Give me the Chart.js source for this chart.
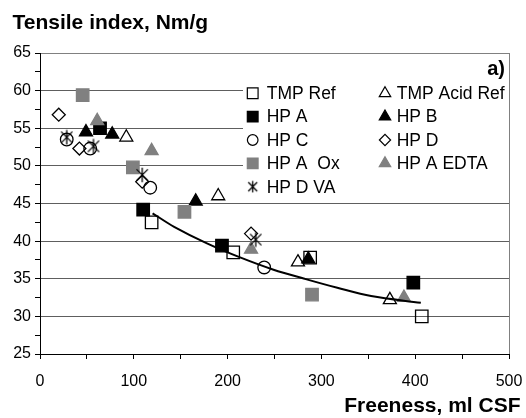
<!DOCTYPE html>
<html>
<head>
<meta charset="utf-8">
<script src="https://cdn.jsdelivr.net/npm/chart.js@4.4.1/dist/chart.umd.min.js"></script>
<style>
  body { margin: 0; background: #fff; }
  #wrap { width: 526px; height: 418px; }
</style>
</head>
<body>
<div id="wrap"><canvas id="chart" width="526" height="418"></canvas></div>
<script>
// freeness (ml CSF) / tensile index (Nm/g) per pulp
var tmpRefX = [119, 206, 288, 407];
var tmpRefY = [42.5, 38.5, 37.8, 30.0];
var tmpAcidX = [92, 190, 275, 373];
var tmpAcidY = [53.8, 46.0, 37.2, 32.2];
var hpAX = [64, 110, 194, 398];
var hpAY = [55.0, 44.2, 39.4, 34.5];
var hpBX = [49, 77, 166, 286];
var hpBY = [54.5, 54.2, 45.3, 37.6];
var hpCX = [28.5, 53.5, 117.5, 239];
var hpCY = [53.5, 52.3, 47.1, 36.5];
var hpDX = [20, 42, 109, 225];
var hpDY = [56.8, 52.3, 47.9, 41.0];
var hpAOxX = [45.5, 99, 154, 290];
var hpAOxY = [59.4, 49.8, 43.9, 32.9];
var hpAEdtaX = [61, 119, 225, 388];
var hpAEdtaY = [56.0, 52.0, 38.9, 32.5];
var hpDVaX = [28.5, 57, 109, 230];
var hpDVaY = [53.8, 52.6, 48.8, 40.2];

// fitted trend curve, read along its length
var trendX = [120, 143, 178, 214, 249, 282, 317, 353, 406];
var trendY = [43.7, 41.9, 39.7, 37.8, 36.2, 35.0, 33.8, 32.7, 31.8];

var xTicks = [0, 100, 200, 300, 400, 500];
var yTicks = [25, 30, 35, 40, 45, 50, 55, 60, 65];

var FONT = '"Liberation Sans", Arial, sans-serif';
var GRAY = '#808080';

function makeStar(size) {
    var c = document.createElement('canvas');
    c.width = size; c.height = size;
    var g = c.getContext('2d');
    var m = size / 2, r = size / 2 - 0.8, d = r * 0.78;
    g.strokeStyle = '#000';
    g.lineWidth = 1.3;
    g.beginPath();
    g.moveTo(m, m - r); g.lineTo(m, m + r);
    g.moveTo(m - d, m - d); g.lineTo(m + d, m + d);
    g.moveTo(m + d, m - d); g.lineTo(m - d, m + d);
    g.stroke();
    return c;
}
var starBig = makeStar(16);
var starSmall = makeStar(13);

function pts(xs, ys) {
    return xs.map(function (x, i) { return {x: x, y: ys[i]}; });
}

// label, xs, ys, style, fill, stroke, radius, legend radius
var series = [
    ['TMP Ref', tmpRefX, tmpRefY, 'rect', 'transparent', '#000', 8.8, 7.6],
    ['TMP Acid Ref', tmpAcidX, tmpAcidY, 'triangle', 'transparent', '#000', 7.5, 6.6],
    ['HP A', hpAX, hpAY, 'rect', '#000', '#000', 8.8, 7.6],
    ['HP B', hpBX, hpBY, 'triangle', '#000', '#000', 7.5, 6.6],
    ['HP C', hpCX, hpCY, 'circle', 'transparent', '#000', 6.3, 5.3],
    ['HP D', hpDX, hpDY, 'rectRot', 'transparent', '#000', 6.5, 5.6],
    ['HP A  Ox', hpAOxX, hpAOxY, 'rect', GRAY, GRAY, 8.8, 7.6],
    ['HP A EDTA', hpAEdtaX, hpAEdtaY, 'triangle', GRAY, GRAY, 7.5, 6.6],
    ['HP D VA', hpDVaX, hpDVaY, starBig, '#000', '#000', 8, 6.5]
];

var datasets = [{
    type: 'line',
    label: 'trend',
    data: pts(trendX, trendY),
    borderColor: '#000',
    borderWidth: 2,
    pointRadius: 0,
    tension: 0.35,
    fill: false,
    order: 0
}];
series.forEach(function (s, i) {
    datasets.push({
        label: s[0],
        data: pts(s[1], s[2]),
        pointStyle: s[3],
        backgroundColor: s[4],
        borderColor: s[5],
        pointBackgroundColor: s[4],
        pointBorderColor: s[5],
        pointBorderWidth: 1.3,
        pointRadius: s[6],
        order: 20 - i
    });
});

// two-column legend on a white box inside the plot, plus the text labels
var decorations = {
    id: 'decorations',
    afterDraw: function (chart) {
        var ctx = chart.ctx;
        ctx.save();
        ctx.fillStyle = '#fff';
        ctx.fillRect(243, 80, 266, 116);

        ctx.font = '17.5px ' + FONT;
        ctx.textBaseline = 'middle';
        ctx.textAlign = 'left';
        series.forEach(function (s, i) {
            var col = i % 2, row = Math.floor(i / 2);
            var mx = col ? 385 : 252.7;
            var tx = col ? 396.7 : 266.7;
            var my = 93.3 + row * 23.35;
            ctx.fillStyle = s[4];
            ctx.strokeStyle = s[5];
            ctx.lineWidth = 1.2;
            Chart.helpers.drawPoint(ctx, {
                pointStyle: s[3] === starBig ? starSmall : s[3],
                radius: s[7],
                borderWidth: 1.2,
                rotation: 0
            }, mx, my);
            ctx.fillStyle = '#000';
            ctx.fillText(s[0], tx, my + 1);
        });

        ctx.fillStyle = '#000';
        ctx.textBaseline = 'alphabetic';
        ctx.font = 'bold 21px ' + FONT;
        ctx.fillText('Tensile index, Nm/g', 12.5, 28.5);
        ctx.textAlign = 'right';
        ctx.fillText('Freeness, ml CSF', 520.5, 412);
        ctx.font = 'bold 20px ' + FONT;
        ctx.fillText('a)', 505, 75);
        ctx.restore();
    }
};

Chart.defaults.font.family = FONT;
Chart.defaults.color = '#000';

new Chart(document.getElementById('chart'), {
    type: 'scatter',
    data: {datasets: datasets},
    options: {
        responsive: false,
        animation: false,
        layout: {padding: {left: 0, right: 17, top: 53, bottom: 0}},
        plugins: {legend: {display: false}, tooltip: {enabled: false}},
        scales: {
            x: {
                type: 'linear',
                min: 0,
                max: 500,
                afterFit: function (scale) {
                    scale.height = 64;
                    scale.paddingLeft = 0;
                    scale.paddingRight = 0;
                },
                ticks: {
                    stepSize: 50,
                    autoSkip: false,
                    maxRotation: 0,
                    padding: 13,
                    font: {size: 16},
                    callback: function (v) { return xTicks.indexOf(v) >= 0 ? String(v) : ''; }
                },
                grid: {
                    drawOnChartArea: true,
                    color: function (c) { return c.tick && c.tick.value === 500 ? GRAY : 'transparent'; },
                    tickColor: '#000',
                    tickLength: 5
                },
                border: {color: '#000', width: 1}
            },
            y: {
                min: 25,
                max: 65,
                afterFit: function (scale) {
                    scale.width = 40;
                    scale.paddingTop = 0;
                    scale.paddingBottom = 0;
                },
                ticks: {
                    stepSize: 2.5,
                    autoSkip: false,
                    padding: 4,
                    font: {size: 16},
                    callback: function (v) { return yTicks.indexOf(v) >= 0 ? String(v) : ''; }
                },
                grid: {
                    color: function (c) {
                        if (!c.tick) return 'transparent';
                        var v = c.tick.value;
                        if (v === 65) return GRAY;
                        return (v > 25 && v % 5 === 0) ? '#5e5e5e' : 'transparent';
                    },
                    tickColor: '#000',
                    tickLength: 5
                },
                border: {color: '#000', width: 1}
            }
        }
    },
    plugins: [decorations]
});
</script>
</body>
</html>
